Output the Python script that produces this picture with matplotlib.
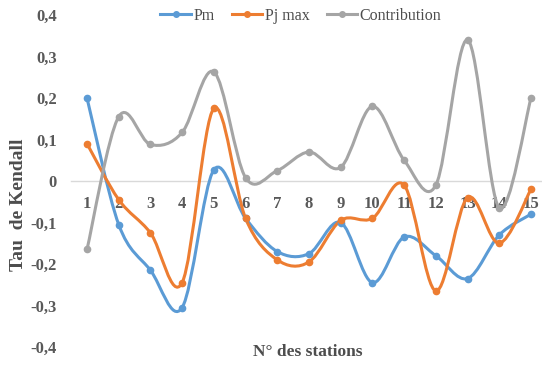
import matplotlib
matplotlib.use("Agg")
import matplotlib.pyplot as plt
import numpy as np
from matplotlib.path import Path
from matplotlib.patches import PathPatch
from matplotlib.lines import Line2D

stations = list(range(1, 16))
pm = [0.20, -0.105, -0.215, -0.305, 0.027, -0.09, -0.17, -0.175, -0.10, -0.245, -0.135, -0.18, -0.235, -0.13, -0.08]
pj_max = [0.09, -0.045, -0.125, -0.245, 0.175, -0.09, -0.19, -0.195, -0.095, -0.09, -0.01, -0.265, -0.04, -0.15, -0.02]
contribution = [-0.165, 0.155, 0.088, 0.117, 0.263, 0.008, 0.025, 0.07, 0.033, 0.18, 0.05, -0.01, 0.34, -0.065, 0.20]
yticks = [-0.4, -0.3, -0.2, -0.1, 0, 0.1, 0.2, 0.3, 0.4]
ytick_labels = ["-0,4", "-0,3", "-0,2", "-0,1", "0", "0,1", "0,2", "0,3", "0,4"]
series_names = ["Pm", "Pj max", "Contribution"]
colors = ["#5B9BD5", "#ED7D31", "#A5A5A5"]

plt.rcParams['font.family'] = ['Liberation Serif', 'DejaVu Serif']

fig = plt.figure(figsize=(5.42, 3.67), dpi=100)
ax = fig.add_axes([71/542, 20/367, 471/542, 332/367])
ax.set_xlim(0.4955, 15.347)
ax.set_ylim(-0.4, 0.4)


def smooth_path(x, y):
    x = np.asarray(x, float); y = np.asarray(y, float)
    n = len(x)
    verts = [(x[0], y[0])]
    codes = [Path.MOVETO]
    for i in range(n - 1):
        p0 = (x[max(i - 1, 0)], y[max(i - 1, 0)])
        p1 = (x[i], y[i])
        p2 = (x[i + 1], y[i + 1])
        p3 = (x[min(i + 2, n - 1)], y[min(i + 2, n - 1)])
        c1 = (p1[0] + (p2[0] - p0[0]) / 6, p1[1] + (p2[1] - p0[1]) / 6)
        c2 = (p2[0] - (p3[0] - p1[0]) / 6, p2[1] - (p3[1] - p1[1]) / 6)
        verts += [c1, c2, p2]
        codes += [Path.CURVE4] * 3
    return Path(verts, codes)


handles = []
for vals, name, c in zip([pm, pj_max, contribution], series_names, colors):
    patch = PathPatch(smooth_path(stations, vals), facecolor='none', edgecolor=c,
                      lw=2.2, capstyle='round', joinstyle='round', zorder=3)
    ax.add_patch(patch)
    ax.plot(stations, vals, linestyle='none', marker='o', ms=4.5, color=c, zorder=4)
    handles.append(Line2D([], [], color=c, lw=2.2, marker='o', ms=4, label=name))

for s in ['top', 'right', 'left']:
    ax.spines[s].set_visible(False)
ax.spines['bottom'].set_position(('data', 0))
ax.spines['bottom'].set_color('#D9D9D9')
ax.spines['bottom'].set_linewidth(1.0)
ax.spines['bottom'].set_zorder(1)

ax.set_xticks(stations)
ax.set_xticklabels([str(s) for s in stations])
ax.tick_params(axis='x', length=0, pad=11, labelsize=12, labelcolor='#595959')
ax.set_yticks(yticks)
ax.set_yticklabels(ytick_labels)
ax.tick_params(axis='y', length=0, pad=10, labelsize=12, labelcolor='#595959')
for lab in ax.get_xticklabels() + ax.get_yticklabels():
    lab.set_fontweight('bold')

fig.text(19/542, 1 - 205/367, "Tau  de Kendall", rotation=90, ha='center', va='center',
         fontsize=14, fontweight='bold', color='#4D4D4D')
fig.text(308/542, 1 - 352/367, "N° des stations", ha='center', va='center',
         fontsize=12.5, fontweight='bold', color='#4D4D4D')

leg = fig.legend(handles=handles, loc='center', bbox_to_anchor=(301/542, 1 - 16/367), ncol=3,
                 frameon=False, fontsize=11.5, handlelength=1.9, handletextpad=0.15,
                 columnspacing=1.1, labelcolor='#4D4D4D')

fig.savefig("out.png", dpi=100)
